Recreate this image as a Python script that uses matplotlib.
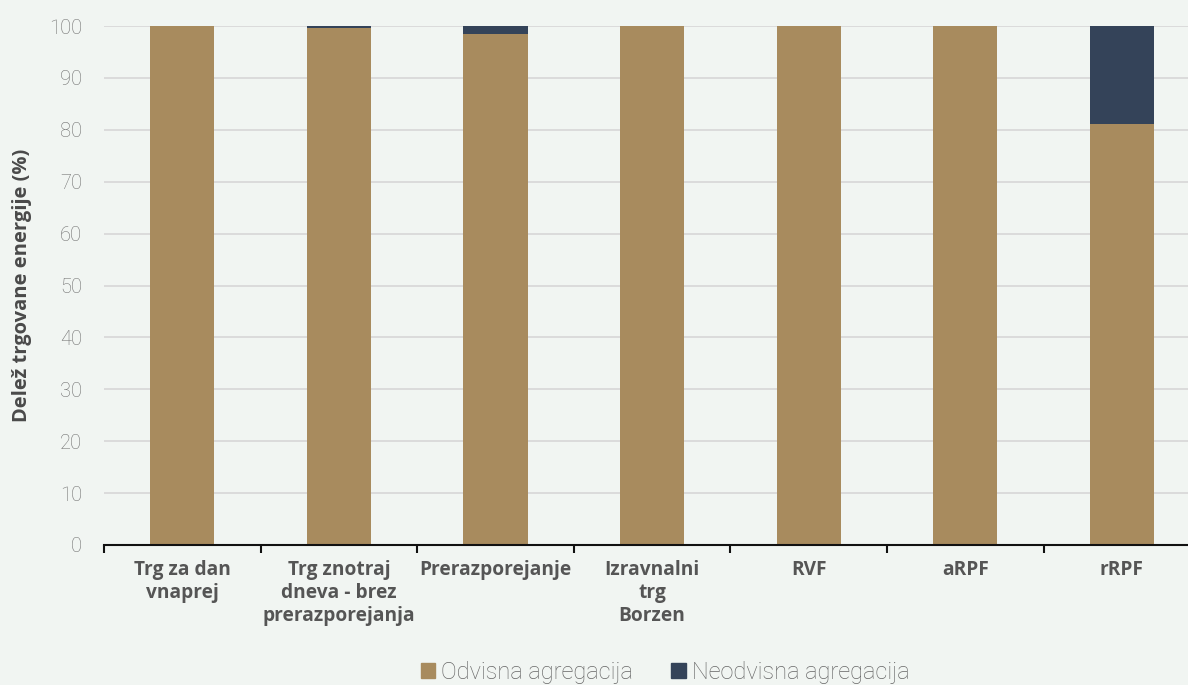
import matplotlib
matplotlib.use("Agg")
import matplotlib.pyplot as plt
from matplotlib.patches import Patch

categories = ["Trg za dan\nvnaprej", "Trg znotraj\ndneva - brez\nprerazporejanja", "Prerazporejanje",
              "Izravnalni\ntrg\nBorzen", "RVF", "aRPF", "rRPF"]
odvisna = [100, 99.7, 98.5, 100, 100, 100, 81.1]
neodvisna = [0, 0.3, 1.5, 0, 0, 0, 18.9]
yticks = [0, 10, 20, 30, 40, 50, 60, 70, 80, 90, 100]

bg = "#f1f5f2"
c_odv = "#a88b5e"
c_neo = "#344359"

W, H = 1188, 685
fig = plt.figure(figsize=(W/100, H/100), dpi=100, facecolor=bg)
left, right, top, bottom = 104, 1188, 26, 545
ax = fig.add_axes([left/W, 1-bottom/H, (right-left)/W, (bottom-top)/H], facecolor=bg)

slot = 156.6
x = list(range(len(categories)))
ax.bar(x, odvisna, width=0.41, color=c_odv, zorder=3)
ax.bar(x, neodvisna, width=0.41, bottom=odvisna, color=c_neo, zorder=3)

ax.set_yticks(yticks)
ax.yaxis.grid(True, color="#d9d9d9", linewidth=1.3, zorder=0)
ax.set_axisbelow(True)
for s in ["top", "right", "left"]:
    ax.spines[s].set_visible(False)
ax.spines["bottom"].set_color("#111111")
ax.spines["bottom"].set_linewidth(1.5)
ax.spines["bottom"].set_zorder(5)

ax.tick_params(axis="y", length=0, pad=16, labelsize=14.5, labelcolor="#707070")
for lab in ax.get_yticklabels():
    lab.set_fontfamily("Roboto")
    lab.set_fontweight("light")

ax.set_xticks([i - 0.5 for i in range(len(categories) + 1)])
ax.set_xticklabels([])
ax.tick_params(axis="x", length=6, width=1.5, color="#111111", direction="out")
ax.set_xticks(x, minor=True)
ax.set_xticklabels(categories, minor=True, fontsize=13.8, fontweight="bold", color="#555555",
                   fontfamily="Open Sans", linespacing=1.2)
ax.tick_params(axis="x", which="minor", length=0, pad=11)

ax.set_xlim(-0.5, -0.5 + (right-left)/slot)
ax.set_ylim(0, 100)

ax.set_ylabel("Delež trgovane energije (%)", fontsize=14.5, fontweight="bold", color="#4a4a4a",
              fontfamily="Open Sans", labelpad=12)

handles = [Patch(color=c_odv, label="Odvisna agregacija"), Patch(color=c_neo, label="Neodvisna agregacija")]
leg = fig.legend(handles=handles, loc="center", bbox_to_anchor=(665/W, 1-672/H), ncol=2, frameon=False,
                 handlelength=0.62, handleheight=0.62, handletextpad=0.25, columnspacing=1.6,
                 prop={"family": "Roboto", "weight": "light", "size": 17})
for t in leg.get_texts():
    t.set_color("#666666")

fig.savefig("out.png", dpi=100, facecolor=bg)
